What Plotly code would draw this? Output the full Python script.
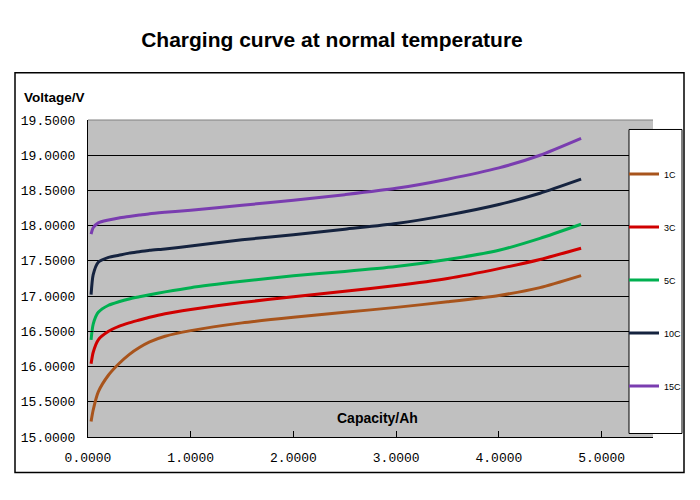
import plotly.graph_objects as go

# capacity (Ah) sample points
capacity = [0.03, 0.05, 0.1, 0.2, 0.3, 0.4, 0.5, 0.6, 0.75, 1.0, 1.5, 2.0, 2.5, 3.0, 3.5, 4.0, 4.4, 4.8]

# voltage (V) per charge rate
v_1c = [15.22, 15.38, 15.64, 15.88, 16.04, 16.17, 16.27, 16.35, 16.43, 16.51, 16.62, 16.70, 16.77, 16.84, 16.92, 17.01, 17.12, 17.29]
v_3c = [16.04, 16.20, 16.38, 16.50, 16.57, 16.62, 16.66, 16.70, 16.75, 16.81, 16.91, 16.99, 17.07, 17.15, 17.25, 17.39, 17.52, 17.68]
v_5c = [16.38, 16.60, 16.77, 16.87, 16.92, 16.96, 16.99, 17.02, 17.06, 17.12, 17.21, 17.29, 17.35, 17.42, 17.52, 17.65, 17.82, 18.02]
v_10c = [17.02, 17.30, 17.48, 17.55, 17.58, 17.61, 17.63, 17.65, 17.67, 17.71, 17.80, 17.87, 17.95, 18.03, 18.15, 18.30, 18.46, 18.66]
v_15c = [17.88, 17.97, 18.04, 18.08, 18.11, 18.13, 18.15, 18.17, 18.19, 18.22, 18.29, 18.36, 18.44, 18.53, 18.66, 18.82, 19.00, 19.24]

series_names = ['1C', '3C', '5C', '10C', '15C']
series_values = [v_1c, v_3c, v_5c, v_10c, v_15c]
series_colors = ['#A8541C', '#D00000', '#00B050', '#15233F', '#7A3DB0']

# the page puts the figure 8px in from the top left corner
OFF = 8
W, H = 700, 500
L, R, T, B = 88 - OFF, W - (653 - OFF), 119.5 - OFF, H - (437.5 - OFF)
PW, PH = W - L - R, H - T - B


def px(xp):  # screen x -> paper x
    return (xp - OFF - L) / PW


def py(yp):  # screen y -> paper y
    return (H - (yp - OFF) - B) / PH


fig = go.Figure()

for name, vals, col in zip(series_names, series_values, series_colors):
    fig.add_trace(go.Scatter(
        x=capacity, y=vals, name=name, mode='lines',
        line=dict(color=col, width=3, shape='spline', smoothing=0.6),
        legendgroup=name,
    ))

tick_font = dict(family='Liberation Mono', size=13, color='black')

fig.update_layout(
    width=W, height=H,
    margin=dict(l=L, r=R, t=T, b=B),
    paper_bgcolor='white',
    plot_bgcolor='#C0C0C0',
    title=dict(text='<b>Charging curve at normal temperature</b>', x=(332 - OFF) / W, xanchor='center',
               y=1 - (40 - OFF) / H, yanchor='middle',
               font=dict(family='Liberation Sans', size=21, color='black')),
    xaxis=dict(range=[0, 5.5], dtick=1, tick0=0, tickformat='.4f', showgrid=False,
               zeroline=False, showline=True, linecolor='black', linewidth=1,
               ticks='inside', ticklen=6, tickcolor='black', tickfont=tick_font,
               ticklabelstandoff=8),
    yaxis=dict(range=[15, 19.5], dtick=0.5, tick0=15, tickformat='.4f', showgrid=True,
               gridcolor='black', gridwidth=1, zeroline=False, showline=True,
               linecolor='black', linewidth=1, ticks='inside', ticklen=5,
               tickcolor='black', tickfont=tick_font, ticklabelstandoff=9),
    legend=dict(x=px(624), xanchor='left', y=py(280), yanchor='middle',
                bgcolor='rgba(0,0,0,0)', borderwidth=0, tracegroupgap=34,
                itemwidth=30, font=dict(family='Liberation Sans', size=9, color='black')),
    showlegend=True,
)

# outer chart frame, gray top edge of the plot area, legend box
fig.add_shape(type='rect', xref='paper', yref='paper', x0=px(15), x1=px(684),
              y0=py(473), y1=py(72),
              line=dict(color='black', width=1.5), fillcolor='rgba(0,0,0,0)', layer='below')
fig.add_shape(type='line', xref='x domain', yref='y domain', x0=0, x1=1, y0=1, y1=1,
              line=dict(color='#808080', width=1), layer='above')
fig.add_shape(type='rect', xref='paper', yref='paper', x0=px(629), x1=px(682),
              y0=py(434), y1=py(129),
              line=dict(color='black', width=1), fillcolor='white', layer='above')

fig.add_annotation(text='<b>Voltage/V</b>', xref='paper', yref='paper',
                   x=px(22), xanchor='left', y=py(97), yanchor='middle',
                   showarrow=False, font=dict(family='Liberation Sans', size=13.5, color='black'))
fig.add_annotation(text='<b>Capacity/Ah</b>', xref='paper', yref='paper',
                   x=px(335), xanchor='left', y=py(418), yanchor='middle',
                   showarrow=False, font=dict(family='Liberation Sans', size=14, color='black'))

fig.write_html("out.html")
